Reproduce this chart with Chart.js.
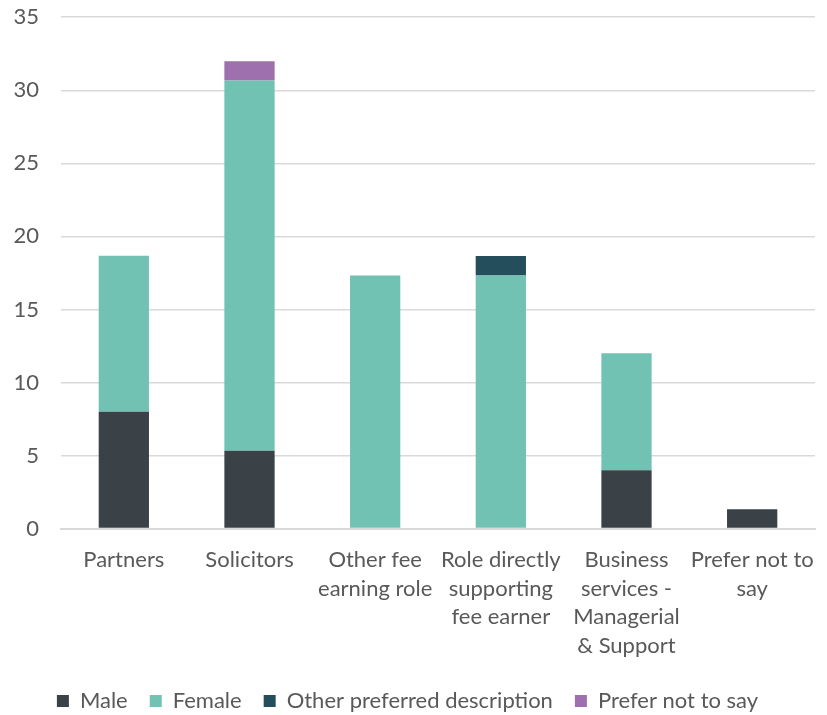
<!DOCTYPE html>
<html><head><meta charset="utf-8">
<script src="https://cdn.jsdelivr.net/npm/chart.js@4"></script>
<style>html,body{margin:0;padding:0;background:#fff}#o{width:827px;height:715px;overflow:hidden;position:relative}#w{position:absolute;left:0;top:-18px;width:827px;height:742px}</style>
</head><body><div id="o"><div id="w"><canvas id="c"></canvas></div></div>
<script>
const categories = ["Partners","Solicitors",["Other fee","earning role"],["Role directly","supporting","fee earner"],["Business","services -","Managerial","& Support"],["Prefer not to","say"]];
const male = [8, 5.33, 0, 0, 4, 1.33];
const female = [10.67, 25.33, 17.33, 17.33, 8, 0];
const otherPreferred = [0, 0, 0, 1.33, 0, 0];
const preferNotToSay = [0, 1.33, 0, 0, 0, 0];
const seriesNames = ["Male","Female","Other preferred description","Prefer not to say"];
const colors = ["#3a4147","#72c2b4","#244e5c","#9e70ad"];
const yTicks = [0,5,10,15,20,25,30,35];

const font = "Lato, 'Open Sans', sans-serif";
Chart.defaults.font.family = font;
Chart.defaults.color = "#595959";
new Chart(document.getElementById('c'), {
  type: 'bar',
  data: {
    labels: categories,
    datasets: [male, female, otherPreferred, preferNotToSay].map((d,i)=>({
      label: seriesNames[i], data: d, backgroundColor: colors[i],
      barPercentage: 0.4, categoryPercentage: 1.0, borderWidth: 0
    }))
  },
  options: {
    responsive: true, maintainAspectRatio: false, animation: false,
    layout: { padding: { top: 0, right: 12, left: 0, bottom: 2 } },
    plugins: {
      tooltip: { enabled: false },
      legend: { position: 'bottom', labels: { boxWidth: 12, boxHeight: 12, padding: 22, font: { size: 22 }, color: '#595959' } }
    },
    scales: {
      x: { stacked: true, grid: { display: false }, border: { color: '#d9d9d9', width: 2 },
           ticks: { font: { size: 22, lineHeight: 1.3 }, color: '#595959', maxRotation: 0, autoSkip: false, padding: 9 },
           afterFit: s => { s.height -= 1; } },
      y: { stacked: true, min: 0, max: 35, afterBuildTicks: s => { s.ticks = yTicks.map(v=>({value:v})); },
           grid: { color: '#d9d9d9', lineWidth: 1.5, drawTicks: false }, border: { display: false },
           ticks: { font: { size: 22 }, color: '#595959', padding: 22 },
           afterFit: s => { s.width = 61; } }
    }
  }
});
</script></body></html>
